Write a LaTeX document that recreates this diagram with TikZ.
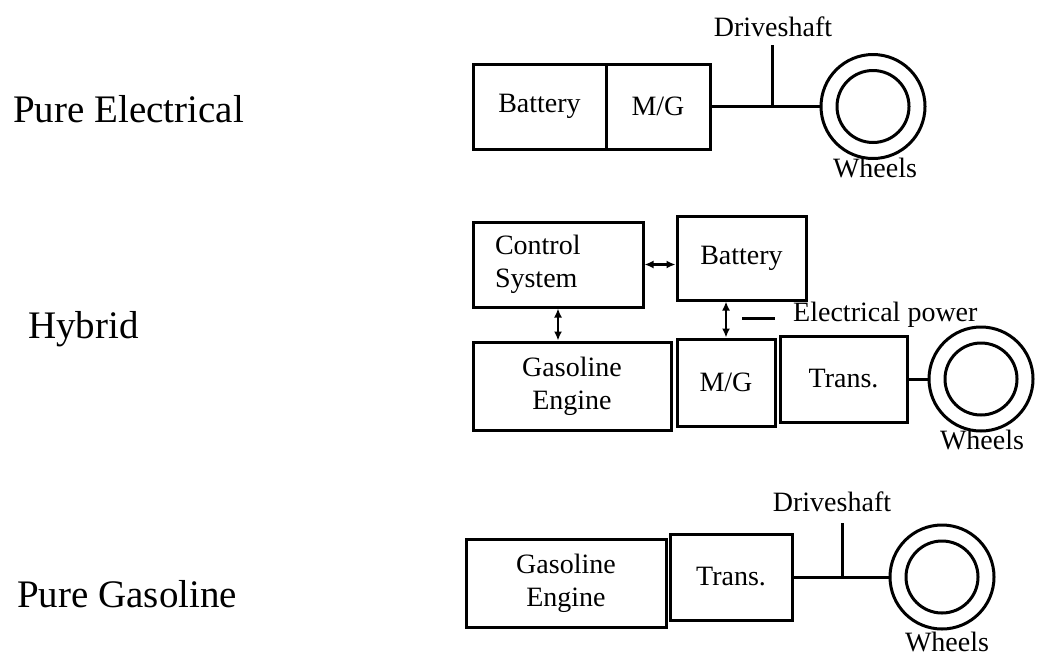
\documentclass[tikz,border=0pt]{standalone}
\usepackage{fontspec}
\setmainfont{Liberation Serif}
\usetikzlibrary{arrows.meta,positioning}

\begin{document}
\begin{tikzpicture}[
    x=1pt, y=-1pt,
    box/.style={draw, line width=3pt, inner sep=0pt, align=center,
                font=\fontsize{28}{33}\selectfont},
    wheel/.style={draw, circle, line width=3pt, minimum size=104pt, inner sep=0pt},
    hub/.style={draw, circle, line width=3pt, minimum size=72pt, inner sep=0pt},
    txt/.style={inner sep=0pt, font=\fontsize{28}{33}\selectfont},
    lbl/.style={inner sep=0pt, anchor=west, font=\fontsize{39}{46}\selectfont},
    shaft/.style={line width=3pt},
    arr/.style={{Latex[length=9pt,width=8pt]}-{Latex[length=9pt,width=8pt]}, line width=2.6pt},
  ]
  \useasboundingbox (0,0) rectangle (1040,664);

  % Pure electrical
  \node[lbl] (pe) at (13,109) {Pure Electrical};
  \node[box, minimum width=133pt, minimum height=85pt] (batA) at (539.5,106.5) {Battery};
  \node[box, minimum width=104pt, minimum height=85pt] (mgA) at (658,106.5) {M/G};
  \node[wheel] (wheelA) at (873,106.5) {};
  \node[hub] (hubA) at (873,106.5) {};
  \node[txt] (dsA) at (773,27) {Driveshaft};
  \node[txt] (whA) at (875,168) {Wheels};
  \coordinate (jA) at (772,106.5);
  \coordinate (jAtop) at (772,45);

  \draw[shaft] (mgA.east) -- (wheelA.west);
  \draw[shaft] (jA) -- (jAtop);

  % Hybrid
  \node[lbl] (hy) at (28,329) {Hybrid};
  \node[box, minimum width=170pt, minimum height=85pt, text width=126pt,
        inner xsep=22pt, align=left] (ctrl) at (558,264.5) {Control\\System};
  \node[box, minimum width=129pt, minimum height=84pt] (batB) at (741.5,258) {Battery};
  \node[box, minimum width=198pt, minimum height=88pt] (gasB) at (572,386) {Gasoline\\Engine};
  \node[box, minimum width=98pt, minimum height=87pt] (mgB) at (726,382.5) {M/G};
  \node[box, minimum width=127pt, minimum height=86pt] (trB) at (843.5,379) {Trans.};
  \node[wheel] (wheelB) at (981,379) {};
  \node[hub] (hubB) at (981,379) {};
  \node[txt] (whB) at (982,440) {Wheels};
  \node[txt, anchor=west] (elec) at (793,315) {Electrical power};
  \coordinate (elecL) at (742,318);

  \draw[arr] (ctrl.east) -- (ctrl.east -| batB.west);
  \draw[arr] (ctrl.south) -- (ctrl.south |- gasB.north);
  \draw[arr] (mgB.north) -- (mgB.north |- batB.south);
  \draw[shaft] (elecL) -- ([xshift=-18pt]elecL -| elec.west);
  \draw[shaft] (trB.east) -- (wheelB.west);

  % Pure gasoline
  \node[lbl] (pg) at (17,594) {Pure Gasoline};
  \node[box, minimum width=200pt, minimum height=88pt] (gasC) at (566,583) {Gasoline\\Engine};
  \node[box, minimum width=122pt, minimum height=86pt] (trC) at (731,577) {Trans.};
  \node[wheel] (wheelC) at (942,577) {};
  \node[hub] (hubC) at (942,577) {};
  \node[txt] (dsC) at (832,502) {Driveshaft};
  \node[txt] (whC) at (947,642) {Wheels};
  \coordinate (jC) at (842,577);
  \coordinate (jCtop) at (842,523);

  \draw[shaft] (trC.east) -- (wheelC.west);
  \draw[shaft] (jC) -- (jCtop);
\end{tikzpicture}
\end{document}
